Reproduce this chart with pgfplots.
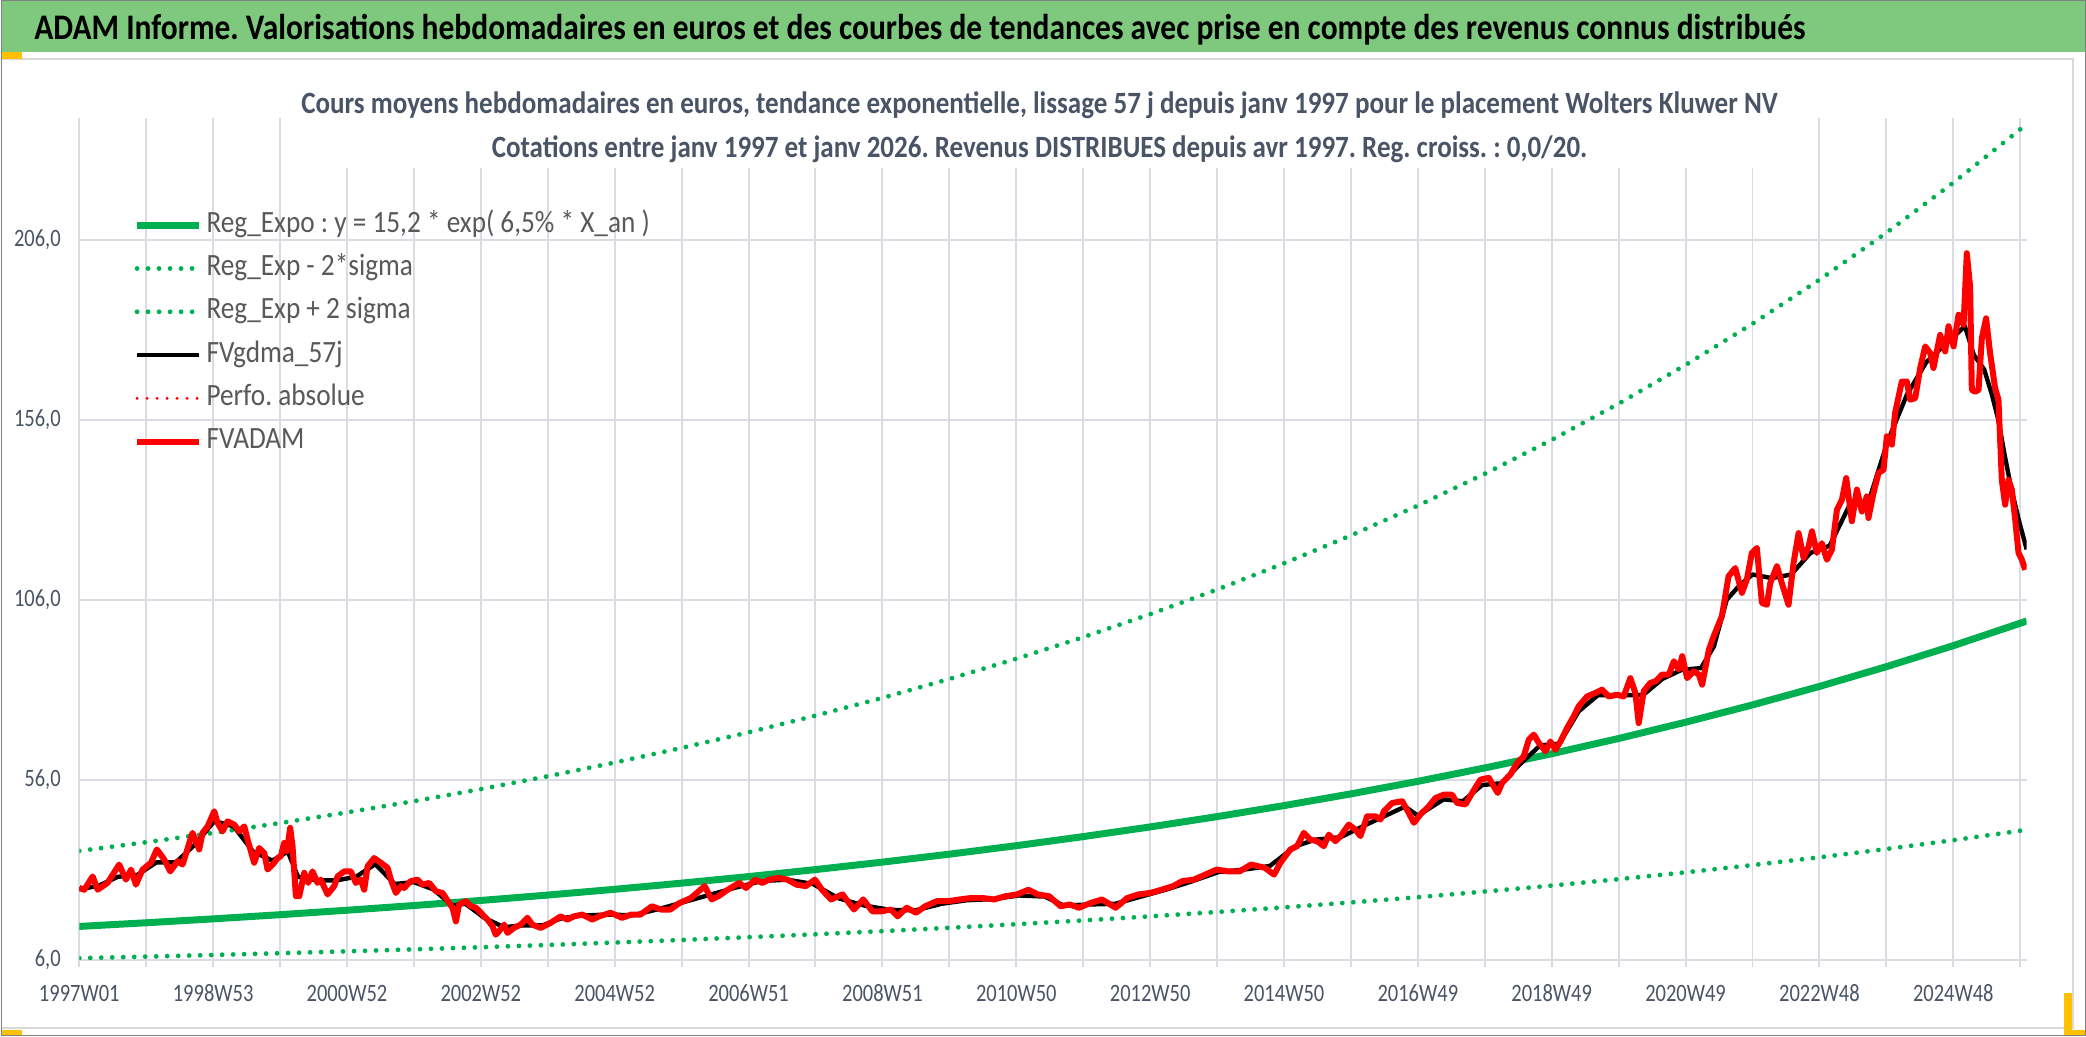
\documentclass[border=0pt]{standalone}
\usepackage{pgfplots}
\pgfplotsset{compat=1.18}
\usepackage{fontspec}
\setmainfont{Carlito}
\usepackage{graphicx}
\frenchspacing

\definecolor{tgreen}{RGB}{0,176,80}
\definecolor{barg}{RGB}{126,201,126}
\definecolor{gridc}{RGB}{217,220,226}
\definecolor{txtc}{RGB}{73,84,102}
\definecolor{legc}{RGB}{89,89,89}
\definecolor{framec}{RGB}{128,128,128}
\definecolor{areab}{RGB}{217,217,217}
\definecolor{selyel}{RGB}{255,192,0}

\newcommand{\sx}[1]{\scalebox{0.82}[1]{#1}}
\newcommand{\lx}[1]{\scalebox{0.88}[1]{#1}}

\begin{document}
\begin{tikzpicture}
\fill[white] (0pt,0pt) rectangle (1043pt,518.5pt);
\begin{scope}[x=0.5pt,y=-0.5pt,shift={(0pt,518.5pt)}]
  \fill[barg] (1,1) rectangle (2085,52);
  \draw[areab, line width=1pt] (0,59) -- (2073,59) -- (2073,1028) -- (0,1028);
  \fill[selyel] (0,52) rectangle (21,59);
  \fill[selyel] (0,1030) rectangle (21,1037);
  \fill[selyel] (2064,993) rectangle (2072,1030);
  \fill[selyel] (2064,1030) rectangle (2086,1037);
\end{scope}

\begin{axis}[
  at={(39.15pt,38.5pt)}, anchor=south west, scale only axis,
  width=974.15pt, height=421.2pt,
  xmin=0, xmax=1513, ymin=6, ymax=240,
  axis x line*=bottom, axis y line*=left,
  x axis line style={draw=gridc, line width=1pt, -},
  y axis line style={draw=none},
  xtick={0,104,208,312,416,520,624,728,832,936,1040,1144,1248,1352,1456},
  xticklabels={\sx{1997W01},\sx{1998W53},\sx{2000W52},\sx{2002W52},\sx{2004W52},\sx{2006W51},\sx{2008W51},\sx{2010W50},\sx{2012W50},\sx{2014W50},\sx{2016W49},\sx{2018W49},\sx{2020W49},\sx{2022W48},\sx{2024W48}},
  minor xtick={52,156,260,364,468,572,676,780,884,988,1092,1196,1300,1404,1508},
  ytick={6,56,106,156,206},
  yticklabels={{\sx{6,0}},{\sx{56,0}},{\sx{106,0}},{\sx{156,0}},{\sx{206,0}}},
  xmajorgrids, xminorgrids, ymajorgrids,
  major grid style={draw=gridc, line width=1pt},
  minor grid style={draw=gridc, line width=1pt},
  tick align=outside,
  major tick length=3.5pt, minor tick length=3.5pt,
  every tick/.style={draw=gridc, line width=1pt},
  every minor tick/.style={draw=gridc, line width=1pt},
  ytick style={draw=none},
  xticklabel style={font=\fontsize{12.5pt}{14pt}\selectfont, text=txtc, anchor=north, inner sep=0pt, yshift=-9pt},
  yticklabel style={font=\fontsize{12.5pt}{14pt}\selectfont, text=txtc, anchor=east, inner sep=0pt, xshift=-5.6pt},
  legend style={at={(0.0277,0.888)}, anchor=north west, draw=none, fill=none,
    font=\fontsize{15.5pt}{17pt}\selectfont, text=legc, row sep=8.65pt, column sep=2pt,
    inner sep=0pt, nodes={inner sep=0pt, text height=10pt, text depth=3pt}},
  legend cell align=left,
  legend image code/.code={\draw[#1] (0pt,0pt) -- (31pt,0pt);},
]
% Reg_Expo
\addplot[tgreen, line width=3.5pt] table {
0 15.20
52 16.22
104 17.30
156 18.46
208 19.70
260 21.01
312 22.42
364 23.92
416 25.52
468 27.23
520 29.05
572 31.00
624 33.07
676 35.28
728 37.64
780 40.16
832 42.85
884 45.72
936 48.78
988 52.04
1040 55.52
1092 59.24
1144 63.20
1196 67.43
1248 71.95
1300 76.76
1352 81.90
1404 87.38
1456 93.23
1508 99.46
1513 100.08
};
\addlegendentry{\lx{Reg\_Expo : y = 15,2 * exp( 6,5\% *  X\_an )}}
% lower
\addplot[tgreen, line width=2.4pt, dash pattern=on 0pt off 5.5pt, line cap=round] table {
0 6.39
52 6.81
104 7.27
156 7.76
208 8.28
260 8.83
312 9.42
364 10.05
416 10.72
468 11.44
520 12.21
572 13.02
624 13.89
676 14.82
728 15.82
780 16.87
832 18.00
884 19.21
936 20.50
988 21.87
1040 23.33
1092 24.89
1144 26.55
1196 28.33
1248 30.23
1300 32.25
1352 34.41
1404 36.71
1456 39.17
1508 41.79
1513 42.05
};
\addlegendentry{\lx{Reg\_Exp - 2*sigma}}
% upper
\addplot[tgreen, line width=2.4pt, dash pattern=on 0pt off 5.5pt, line cap=round] table {
0 36.18
52 38.60
104 41.17
156 43.93
208 46.89
260 50.00
312 53.36
364 56.93
416 60.74
468 64.81
520 69.14
572 73.78
624 78.71
676 83.97
728 89.58
780 95.58
832 101.98
884 108.81
936 116.10
988 123.86
1040 132.14
1092 140.99
1144 150.42
1196 160.48
1248 171.24
1300 182.69
1352 194.92
1404 207.96
1456 221.89
1508 236.71
1513 238.19
};
\addlegendentry{\lx{Reg\_Exp + 2 sigma}}
% smoothed
\addplot[black, line width=2.2pt, line join=round] table {
0 25.5
15 26.5
30 29
45 29.5
60 33
75 33
90 38
105 44.5
120 43
135 36
150 33.5
162 36
170 29
185 28
200 28
215 29
230 32.5
245 27
260 27.5
275 25.5
290 21
300 21.5
315 17.5
330 15
345 15.5
360 15.5
375 17.5
390 18.2
410 18.5
430 18.3
450 20
470 22
490 24
510 26
530 27.8
550 28.2
570 27
590 23
610 21
630 19.8
650 19.7
670 21.5
690 22.5
710 22.8
730 23.8
750 23.5
765 21
785 21.3
805 21.5
825 23.5
845 25.5
865 27.8
885 30.3
905 31
925 32
945 37.5
960 39.3
980 40
1000 43.5
1015 46
1030 48.5
1040 46
1060 50.5
1075 50
1090 54.5
1105 55
1120 60.5
1135 65.5
1150 66
1165 75
1180 79.5
1200 79.5
1215 79.5
1230 84
1245 86.5
1260 87
1270 93
1280 106
1290 110
1300 113
1315 112
1330 113
1345 119
1360 121
1375 132
1390 133
1405 150
1420 163
1435 172
1450 177
1465 182
1472 174
1480 170
1486 163
1491 156
1496 146
1501 137
1507 128
1513 120
};
\addlegendentry{\lx{FVgdma\_57j}}
\addlegendimage{red, line width=1.6pt, dash pattern=on 0pt off 5pt, line cap=round}
\addlegendentry{\lx{Perfo. absolue}}
% FVADAM
\addplot[red, line width=3pt, line join=round] table {
0 25.9
3.9 25.4
10.4 29.1
14.3 25.4
22 27.3
31 32.4
36.3 28.2
40.2 31
44 26.8
49.2 31
55.7 32.9
60.3 36.6
66 33.8
70.7 30.5
76.4 33.3
80.3 32.4
85.5 38.4
88 41.2
93.2 36.6
95.8 41.2
99.7 43
104.9 47.2
107.4 44
111.3 41.6
115.2 44.4
120.4 43.5
124.3 41.6
128.2 43
130.8 39.3
135.9 32.9
139.8 37
143.7 35.6
146.3 31
151.5 32.9
154.1 34.2
156.6 34.7
159.2 38.4
161.3 36.1
163.9 42.6
165.7 37.5
168.3 23.6
170.9 23.6
174.8 30.1
177.9 27.3
181.2 30.5
185.1 27.3
187.7 28.2
192.9 24.1
198.1 26.4
200.7 29.1
205.9 30.5
211 30.5
214.9 27.3
218.8 28.2
221.4 25.4
224 31.9
229.1 34.2
234.3 32.9
239.5 31.5
242.1 28.2
246 24.5
249.8 26.4
252.4 25.9
257.6 27.8
262.8 28.2
266.7 26.8
271.9 27.3
277 25
282.2 24.5
287.4 21.7
290 20.4
292.6 16.6
295.1 21.3
300.3 22.2
304.2 20.8
308.1 20.4
312 19
317.1 17.1
321 15.3
323.6 12.9
326.2 13.9
330.1 15.7
332.7 13.4
337.8 14.8
343 15.7
348.2 17.6
352 15.7
358.5 14.8
366.3 16.2
374 18
379.2 17.1
384.4 18
390.8 18.5
398.5 17.1
403.9 18
412.8 19
421.7 17.6
428.9 18.5
436 18.5
444.9 20.8
452 19.9
459.2 19.9
466.3 21.7
475.2 23.1
485.9 26.4
491.3 22.7
496.6 23.6
503.8 25.4
512.7 27.3
518.1 25.9
525.2 28.2
530.6 27.3
535.9 28.2
543.1 28.7
550.2 28.2
557.3 26.8
564.5 26.4
571.6 28.2
577 25.4
584.1 22.7
593 24.1
601.9 19.9
609.1 22.7
616.2 19.4
623.3 19.4
630.5 19.9
635.8 18
642.9 20.4
650.1 19
657.2 20.8
666.1 22.2
675 22.2
684 22.7
692.9 23.1
701.8 23.1
710.7 22.7
719.7 23.6
728.6 24.1
737.5 25.4
744.6 24.1
753.5 23.6
762.5 20.8
769.6 21.3
776.7 20.4
785.6 21.7
794.5 22.7
805.2 20.4
814.2 23.1
823.1 24.1
832 24.5
840.9 25.4
849.8 26.4
857 27.8
865.9 28.2
874.8 29.6
883.7 31
892.6 30.5
901.5 30.5
910.4 32.4
921.1 31.5
928.3 29.6
933.2 32.9
941 36.6
946.2 37.5
951.4 41.2
956.5 39.3
961.7 38.9
966.9 37.5
970.8 40.7
976 38.9
979.9 40.3
986.3 43.5
991.5 42.1
995.4 40.3
1000.6 45.8
1007.1 45.8
1011 44.9
1013.6 47.2
1020 49.5
1027.8 50
1033 46.7
1036.9 44
1042 46.3
1048.5 48.6
1053.7 50.9
1060.1 51.8
1066.6 51.8
1070.5 49.5
1077 49.1
1082.2 52.3
1088.6 56
1095.1 56.5
1099 54.1
1102.1 52.3
1105.5 55.1
1111.9 57.4
1117.1 60.6
1122.3 62.5
1126.2 67.1
1130.1 68.5
1134 66.2
1139.1 63.9
1143 66.6
1146.9 64.3
1150.8 66.6
1156 70.4
1161.1 73.6
1165 76.4
1171.5 79.1
1178 80.1
1183.1 81
1188.3 79.1
1194.8 79.6
1199.9 79.1
1205.1 84.2
1209 80.1
1211.6 71.7
1215.5 80.6
1220.7 82.9
1224.6 83.3
1229.8 85.2
1235 85.2
1238.9 88.9
1242.8 86.6
1245.4 90.3
1249.2 84.2
1254.4 86.1
1258.3 85.2
1260.9 82.4
1266.1 92.1
1269.8 95.8
1276.2 101.4
1281.4 112.5
1286.6 114.8
1291.8 107.9
1295.6 111.6
1299.5 119
1303.4 120.4
1307.3 105.1
1311.2 104.6
1313.8 110.6
1319 115.3
1322.8 110.6
1328 104.6
1331.9 116.2
1335.8 124.5
1339.7 117.6
1343.6 120.8
1346.2 125
1350 119
1353.9 121.7
1357.8 117.1
1361.7 119.9
1365.6 131
1369.5 133.8
1372.8 139.8
1377.2 127.8
1381.1 136.6
1385 130.5
1388.8 134.7
1390.1 128.7
1394 135.6
1397.9 141.2
1401.8 142.1
1404.4 151.4
1408.3 149.1
1410.8 157.9
1416 166.6
1419.9 166.6
1422.5 161.6
1426.4 162
1430.3 170.4
1434.2 176.4
1438.1 174.5
1440.6 170.4
1445.8 179.6
1449.7 175
1452.3 182
1456.2 176.4
1460.1 185.2
1464 182.4
1466.5 202.3
1469.1 193
1470.4 164.3
1473 163.8
1475.6 164.3
1478.2 178.7
1481.5 184.2
1484.6 174.5
1488.5 164.8
1491.1 161.6
1493.7 139.3
1496.3 132.4
1498.9 139.3
1501.5 136.6
1504.1 128.2
1506.7 119
1509.3 117.1
1511.9 114.3
};
\addlegendentry{\lx{FVADAM}}
\end{axis}

\begin{scope}[x=0.5pt,y=-0.5pt,shift={(0pt,518.5pt)}]
  \fill[white] (295,62) rectangle (1783,168);
  \node[anchor=base, inner sep=0pt, text=txtc, font=\fontsize{15.5pt}{17pt}\selectfont\bfseries] at (1039,114)
    {\resizebox{738.5pt}{\height}{Cours moyens hebdomadaires en euros, tendance exponentielle, lissage 57 j depuis janv 1997 pour le placement Wolters Kluwer NV}};
  \node[anchor=base, inner sep=0pt, text=txtc, font=\fontsize{15.5pt}{17pt}\selectfont\bfseries] at (1039,158)
    {\resizebox{548pt}{\height}{Cotations entre janv 1997 et janv 2026. Revenus DISTRIBUES depuis avr 1997. Reg. croiss. : 0,0/20.}};
  \node[anchor=base west, inner sep=0pt, text=black, font=\fontsize{18pt}{20pt}\selectfont\bfseries] at (33,40)
    {\resizebox{886pt}{\height}{ADAM Informe. Valorisations hebdomadaires en euros et des courbes de tendances avec prise en compte des revenus connus distribués}};
  \draw[framec, line width=0.5pt] (0.5,0.5) rectangle (2085.5,1036.5);
\end{scope}
\end{tikzpicture}
\end{document}
